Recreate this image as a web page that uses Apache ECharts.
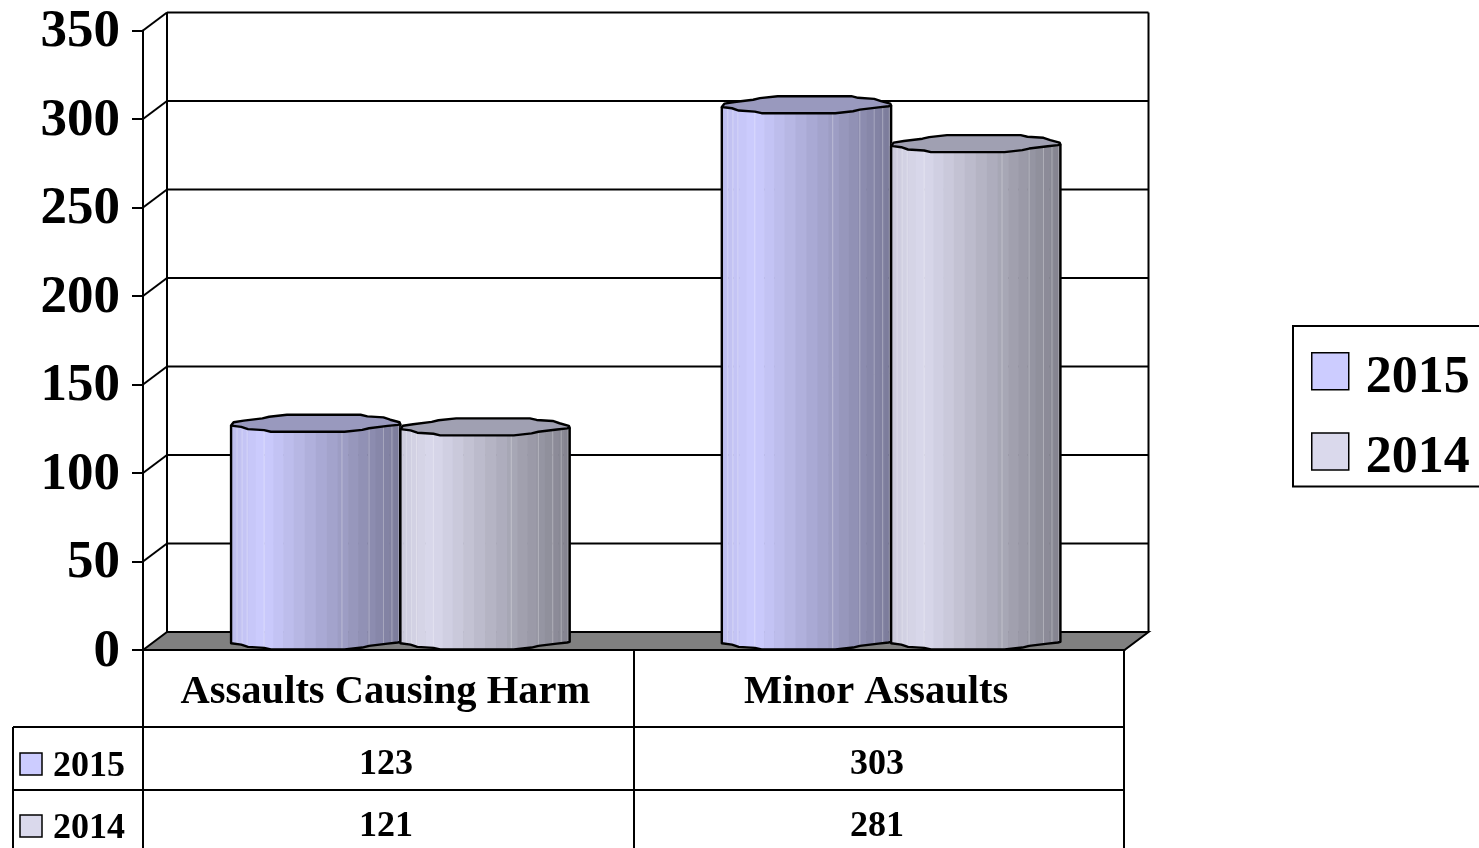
<!DOCTYPE html>
<html>
<head>
<meta charset="utf-8">
<style>html,body{margin:0;padding:0;background:#fff;overflow:hidden}#c{width:1479px;height:848px}</style>
<script src="https://cdn.jsdelivr.net/npm/echarts@6/dist/echarts.min.js"></script>
</head>
<body>
<div id="c"></div>
<script>
const categories = ['Assaults Causing Harm', 'Minor Assaults'];
const seriesNames = ['2015', '2014'];
const values2015 = [123, 303];
const values2014 = [121, 281];
const yTicks = [0, 50, 100, 150, 200, 250, 300, 350];

const FONT = '"Liberation Serif", serif';
const DX = 24, DY = -18;
const palette = {
  '2015': {body: [204, 204, 255], top: '#9999BE'},
  '2014': {body: [218, 217, 236], top: '#A0A0B2'}
};
const TOP_OUTLINE = [[-1,.27],[-.97,-.12],[-.85,-.31],[-.63,-.58],[-.55,-.77],[-.34,-1],[.53,-1],[.61,-.81],[.8,-.69],[.88,-.42],[.99,-.12],[1,.1]];
const BOTTOM_OUTLINE = [[1,.1],[.97,.18],[.85,.31],[.63,.58],[.55,.77],[.34,1],[-.53,1],[-.61,.81],[-.8,.69],[-.88,.42],[-1,.27]];
const SEAMS = [-.93,-.87,-.81,-.61,.31,.63,.8,.9,.98];

function lowerY(u) {
  const p = BOTTOM_OUTLINE.slice().reverse();
  for (let i = 0; i < p.length - 1; i++) {
    if (u >= p[i][0] && u <= p[i + 1][0] && p[i + 1][0] > p[i][0]) {
      const t = (u - p[i][0]) / (p[i + 1][0] - p[i][0]);
      return p[i][1] + (p[i + 1][1] - p[i][1]) * t;
    }
  }
  return .2;
}
function shade(u) {
  if (u < -.62) return .93 + (u + 1) / .38 * .07;
  return 1 - (u + .62) / 1.62 * .4;
}
function cylinder(name, slot) {
  const pal = palette[name];
  return function (params, api) {
    const band = api.size([1, 0])[0];
    const w = band * .345;
    const rx = w / 2, ry = 8.5;
    const front = api.coord([api.value(0), api.value(1)]);
    const base = api.coord([api.value(0), 0]);
    const cx = front[0] + (slot === 0 ? -rx : rx) + DX / 2;
    const cyTop = front[1] + DY / 2, cyBase = base[1] + DY / 2;
    const kids = [];
    const N = 24;
    for (let i = 0; i < N; i++) {
      const u0 = Math.sin((-90 + i * 180 / N) * Math.PI / 180);
      const u1 = Math.sin((-90 + (i + 1) * 180 / N) * Math.PI / 180);
      const f = shade((u0 + u1) / 2);
      const c = pal.body.map(v => Math.round(v * f));
      const pts = [[cx + u0 * rx, cyTop], [cx + u1 * rx + .6, cyTop],
        [cx + u1 * rx + .6, cyBase + lowerY(u1) * ry], [cx + u0 * rx, cyBase + lowerY(u0) * ry]];
      kids.push({type: 'polygon', shape: {points: pts}, style: {fill: `rgb(${c})`, stroke: null}});
    }
    SEAMS.forEach(u => {
      kids.push({type: 'line', shape: {x1: cx + u * rx, y1: cyTop, x2: cx + u * rx, y2: cyBase + lowerY(u) * ry},
        style: {stroke: 'rgba(255,255,255,.3)', lineWidth: 1}});
    });
    const lower = BOTTOM_OUTLINE.map(p => [cx + p[0] * rx, cyBase + p[1] * ry]);
    kids.push({type: 'polyline', shape: {points: [[cx + rx, cyTop + ry * .1]].concat(lower).concat([[cx - rx, cyTop + ry * .27]])},
      style: {stroke: '#000', lineWidth: 2.4, fill: null, lineJoin: 'round'}});
    const cap = TOP_OUTLINE.concat(BOTTOM_OUTLINE).map(p => [cx + p[0] * rx, cyTop + p[1] * ry]);
    kids.push({type: 'polygon', shape: {points: cap}, style: {fill: pal.top, stroke: '#000', lineWidth: 2.4, lineJoin: 'round'}});
    return {type: 'group', children: kids};
  };
}
function wall(params, api) {
  const cs = params.coordSys;
  const t = api.value(1);
  const y = api.coord([api.value(0), t])[1];
  const xl = cs.x, xr = cs.x + cs.width;
  const black = {stroke: '#000', lineWidth: 2};
  const kids = [];
  if (t === 0) {
    const top = api.coord([api.value(0), yTicks[yTicks.length - 1]])[1];
    kids.push({type: 'polygon', shape: {points: [[xl, y], [xl + DX, y + DY], [xr + DX, y + DY], [xr, y]]},
      style: {fill: '#808080', stroke: '#000', lineWidth: 2}});
    kids.push({type: 'line', shape: {x1: xl + DX, y1: y + DY, x2: xl + DX, y2: top + DY}, style: black});
    kids.push({type: 'line', shape: {x1: xr + DX, y1: y + DY, x2: xr + DX, y2: top + DY}, style: black});
  } else {
    kids.push({type: 'line', shape: {x1: xl, y1: y, x2: xl + DX, y2: y + DY}, style: black});
    kids.push({type: 'line', shape: {x1: xl + DX, y1: y + DY, x2: xr + DX, y2: y + DY}, style: black});
  }
  return {type: 'group', children: kids};
}

/* data table */
const L = 143, M = 634, R = 1124, FAR = 13, R1 = 727, R2 = 790, B = 848, T0 = 650;
const tline = (x1, y1, x2, y2) => ({type: 'line', shape: {x1, y1, x2, y2}, style: {stroke: '#000', lineWidth: 2}, z: 10});
const ttext = (text, x, y, size, align) => ({type: 'text', x, y, z: 11,
  style: {text, font: `bold ${size}px ${FONT}`, fill: '#000', textAlign: align || 'center', textVerticalAlign: 'middle'}});
const swatch = (x, y, s, fill) => ({type: 'rect', shape: {x, y, width: s, height: s}, z: 11,
  style: {fill, stroke: '#000', lineWidth: 1.5}});
const fills = {'2015': 'rgb(204,204,255)', '2014': 'rgb(218,217,236)'};
const tableRows = [[seriesNames[0], values2015, 764, 765], [seriesNames[1], values2014, 826, 827]];
const graphics = [
  tline(L, T0, L, B), tline(M, T0, M, B), tline(R, T0, R, B),
  tline(FAR, R1, R, R1), tline(FAR, R2, R, R2), tline(FAR, R1, FAR, B)
];
tableRows.forEach(r => {
  graphics.push(swatch(20, r[2] - 11, 22, fills[r[0]]));
  graphics.push(ttext(r[0], 53, r[2] + 3, 36, 'left'));
  graphics.push(ttext(String(r[1][0]), 386, r[3], 36));
  graphics.push(ttext(String(r[1][1]), 877, r[3], 36));
});

const chart = echarts.init(document.getElementById('c'), null, {renderer: 'canvas'});
chart.setOption({
  animation: false,
  backgroundColor: '#fff',
  grid: {left: 143, top: 30.5, width: 981.5, height: 619.5, containLabel: false},
  xAxis: {
    type: 'category', data: categories,
    axisLine: {show: true, lineStyle: {color: '#000', width: 2}},
    axisTick: {show: false},
    axisLabel: {interval: 0, fontFamily: FONT, fontWeight: 'bold', fontSize: 40.5, color: '#000', margin: 22, padding: [0, 6, 0, 0]}
  },
  yAxis: {
    type: 'value', min: 0, max: 350, interval: 50,
    axisLine: {show: true, lineStyle: {color: '#000', width: 2}},
    axisTick: {show: true, length: 11, lineStyle: {color: '#000', width: 2}},
    splitLine: {show: false},
    axisLabel: {
      color: '#000', margin: 23, formatter: v => '{n|' + v + '}',
      rich: {n: {fontFamily: FONT, fontWeight: 'bold', fontSize: 53, color: '#000', padding: [4, 0, 0, 0]}}
    }
  },
  legend: {
    data: seriesNames, orient: 'vertical', left: 1293, top: 326,
    itemWidth: 37, itemHeight: 37, itemGap: 28, icon: 'rect',
    padding: [26, 30, 2, 18],
    borderColor: '#000', borderWidth: 2, backgroundColor: '#fff',
    formatter: n => '{t|' + n + '}',
    textStyle: {
      color: '#000',
      rich: {t: {fontFamily: FONT, fontWeight: 'bold', fontSize: 52, color: '#000', padding: [14, 0, 0, 12]}}
    },
    itemStyle: {borderColor: '#000', borderWidth: 1.5}
  },
  graphic: graphics,
  series: [
    {name: 'wall', type: 'custom', z: 1, silent: true, renderItem: wall,
      encode: {x: 0, y: 1}, data: yTicks.map(t => [categories[0], t])},
    {name: seriesNames[0], type: 'custom', z: 3, renderItem: cylinder(seriesNames[0], 0),
      itemStyle: {color: fills['2015']}, encode: {x: 0, y: 1},
      data: categories.map((c, i) => [c, values2015[i]])},
    {name: seriesNames[1], type: 'custom', z: 4, renderItem: cylinder(seriesNames[1], 1),
      itemStyle: {color: fills['2014']}, encode: {x: 0, y: 1},
      data: categories.map((c, i) => [c, values2014[i]])}
  ]
});
</script>
</body>
</html>
